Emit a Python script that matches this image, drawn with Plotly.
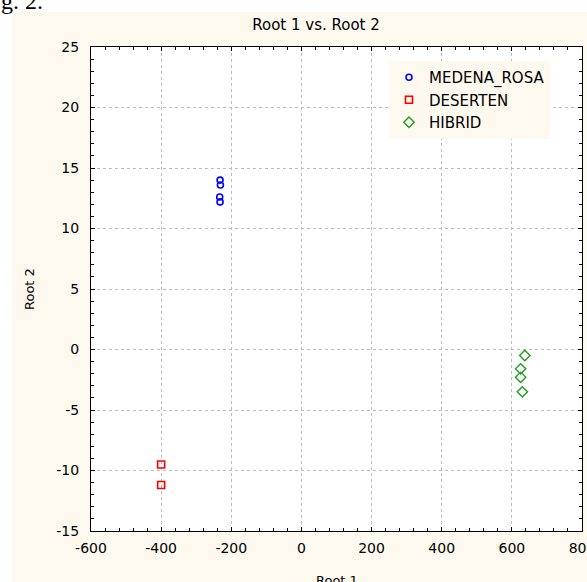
import plotly.graph_objects as go

# ---- data ----
medena_x = [-232, -231, -233, -232]
medena_y = [14.0, 13.6, 12.6, 12.2]

deserten_x = [-400, -400]
deserten_y = [-9.5, -11.2]

hibrid_x = [637, 625, 625, 630]
hibrid_y = [-0.5, -1.6, -2.3, -3.5]

series_names = ["MEDENA_ROSA", "DESERTEN", "HIBRID"]
x_ticks = [-600, -400, -200, 0, 200, 400, 600, 800]
y_ticks = [-15, -10, -5, 0, 5, 10, 15, 20, 25]

CREAM = "#fdf9ef"
W, H = 587, 582
L, R, T, B = 91, 5, 47, 51
PW, PH = W - L - R, H - T - B


def px2paper_x(px):
    return (px - L) / PW


def px2paper_y(py):
    return (H - B - py) / PH


font_main = "DejaVu Sans, Verdana, sans-serif"

fig = go.Figure()
fig.add_trace(go.Scatter(
    x=medena_x, y=medena_y, mode="markers", name=series_names[0],
    marker=dict(symbol="circle-open", size=6, color="#0000ff",
                line=dict(width=1.6, color="#0000ff")),
))
fig.add_trace(go.Scatter(
    x=deserten_x, y=deserten_y, mode="markers", name=series_names[1],
    marker=dict(symbol="square-open", size=7, color="#ff0000",
                line=dict(width=1.6, color="#ff0000")),
))
fig.add_trace(go.Scatter(
    x=hibrid_x, y=hibrid_y, mode="markers", name=series_names[2],
    marker=dict(symbol="diamond-open", size=8, color="#22a022",
                line=dict(width=1.4, color="#22a022")),
))

axis_common = dict(
    showline=True, linecolor="black", linewidth=1.2, mirror="allticks",
    ticks="inside", ticklen=4, tickcolor="black", tickwidth=1,
    showgrid=True, gridcolor="#bcbcbc", gridwidth=1, griddash="dot",
    zeroline=False, ticklabeloverflow="allow",
    tickfont=dict(family=font_main, size=14, color="black"),
)

fig.update_xaxes(
    range=[-600, 800], tickvals=x_ticks, ticktext=[str(v) for v in x_ticks],
    minor=dict(ticks="inside", dtick=40, ticklen=3, tickcolor="black", showgrid=False),
    ticklabelstandoff=4,
    **axis_common,
)
fig.update_yaxes(
    range=[-15, 25], tickvals=y_ticks, ticktext=[str(v) for v in y_ticks],
    minor=dict(ticks="inside", dtick=1, ticklen=3, tickcolor="black", showgrid=False),
    ticklabelstandoff=8,
    **axis_common,
)

shapes = [
    # white strips outside the cream chart panel (top and left)
    dict(type="rect", xref="paper", yref="paper", layer="below",
         x0=px2paper_x(-20), x1=px2paper_x(W + 20), y0=px2paper_y(12), y1=px2paper_y(-20),
         fillcolor="white", line=dict(width=0)),
    dict(type="rect", xref="paper", yref="paper", layer="below",
         x0=px2paper_x(-20), x1=px2paper_x(12), y0=px2paper_y(H + 20), y1=px2paper_y(-20),
         fillcolor="white", line=dict(width=0)),
]

annotations = [
    dict(text="g. 2.", xref="paper", yref="paper", x=px2paper_x(-1), y=px2paper_y(1),
         xanchor="left", yanchor="middle", showarrow=False,
         font=dict(family="Liberation Serif, Times New Roman, serif", size=24, color="black")),
    dict(text="Root 2", xref="paper", yref="paper", x=px2paper_x(29), y=0.5,
         xanchor="center", yanchor="middle", textangle=-90, showarrow=False,
         font=dict(family=font_main, size=13, color="black")),
    dict(text="Root 1", xref="paper", yref="paper", x=0.5, y=px2paper_y(580),
         xanchor="center", yanchor="middle", showarrow=False,
         font=dict(family=font_main, size=13, color="black")),
]

fig.update_layout(
    width=W, height=H,
    margin=dict(l=L, r=R, t=T, b=B, autoexpand=False),
    paper_bgcolor=CREAM, plot_bgcolor="white",
    title=dict(text="Root 1 vs. Root 2", x=316 / W, xref="container", xanchor="center",
               y=1 - 25 / H, yref="container", yanchor="middle",
               font=dict(family=font_main, size=15, color="black")),
    showlegend=True,
    legend=dict(x=px2paper_x(389), y=px2paper_y(61), xanchor="left", yanchor="top",
                bgcolor=CREAM, borderwidth=0,
                font=dict(family=font_main, size=15, color="black"),
                itemsizing="trace", tracegroupgap=0),
    shapes=shapes, annotations=annotations,
)

# remove the browser's default 8px page margin so the figure fills the window
fig.write_html("out.html", config={"displayModeBar": False},
               post_script="document.body.style.margin='0';")
